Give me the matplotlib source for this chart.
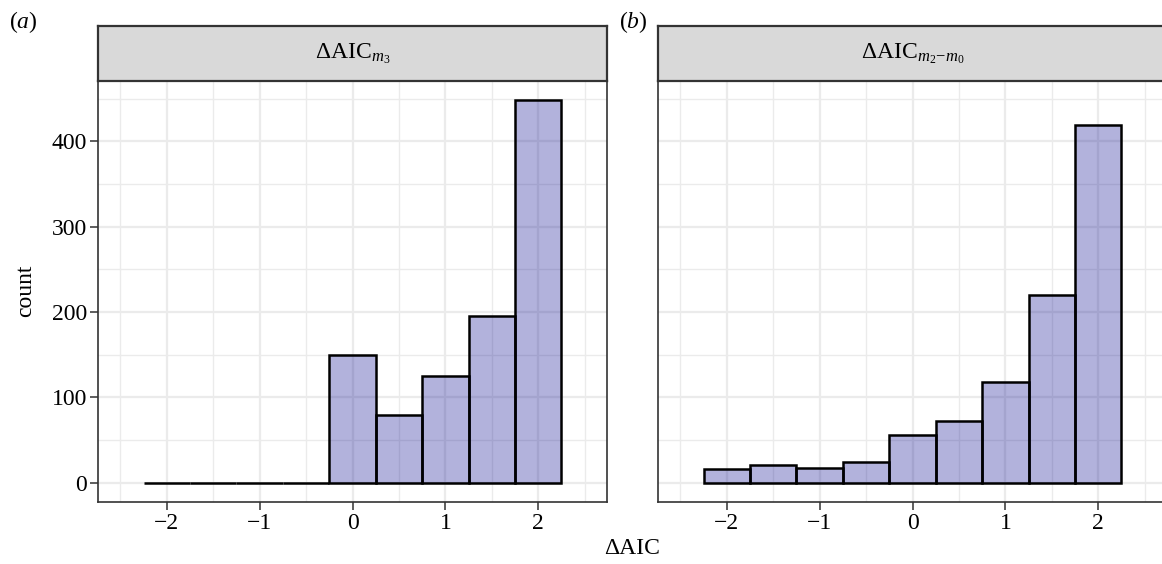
import matplotlib.pyplot as plt

plt.rcParams["font.family"] = ["Liberation Serif", "DejaVu Serif"]
plt.rcParams["mathtext.fontset"] = "custom"
plt.rcParams["mathtext.rm"] = "Liberation Serif"
plt.rcParams["mathtext.it"] = "Liberation Serif:italic"

# histogram bins (width 0.5) and counts per facet
bin_centers = [-2.0, -1.5, -1.0, -0.5, 0.0, 0.5, 1.0, 1.5, 2.0]
counts_m3 = [0, 0, 0, 0, 150, 80, 125, 196, 449]
counts_m2_m0 = [16, 21, 17, 25, 56, 73, 118, 220, 419]
panel_counts = [counts_m3, counts_m2_m0]
panel_titles = [r"$\mathrm{\Delta AIC}_{m_3}$", r"$\mathrm{\Delta AIC}_{m_2\!-\!m_0}$"]
panel_tags = [r"($a$)", r"($b$)"]
x_ticks = [-2, -1, 0, 1, 2]
x_tick_labels = ["\u22122", "\u22121", "0", "1", "2"]
x_minor = [-2.5, -1.5, -0.5, 0.5, 1.5, 2.5]
y_ticks = [0, 100, 200, 300, 400]
y_minor = [50, 150, 250, 350, 450]

W, H = 1162, 564
fig = plt.figure(figsize=(W / 100, H / 100), dpi=100)


def box(x0, y0, x1, y1):
    return [x0 / W, 1 - y1 / H, (x1 - x0) / W, (y1 - y0) / H]


dark = "#333333"
grid_col = "#EBEBEB"
fill = (0.0, 0.0, 0.545, 0.3)
lefts = [98, 658]
tag_x = [23, 633]
pw = 509
fs = 17

for i in range(2):
    x0 = lefts[i]
    ax = fig.add_axes(box(x0, 80.5, x0 + pw, 502))
    ax.bar(bin_centers, panel_counts[i], width=0.5, color=fill,
           edgecolor="black", linewidth=1.8, zorder=3)
    ax.set_xlim(-2.74, 2.74)
    ax.set_ylim(-22.45, 471.45)
    ax.set_xticks(x_ticks)
    ax.set_xticklabels(x_tick_labels)
    ax.set_xticks(x_minor, minor=True)
    ax.set_yticks(y_ticks)
    ax.set_yticks(y_minor, minor=True)
    ax.set_axisbelow(True)
    ax.grid(which="major", color=grid_col, linewidth=1.6, zorder=0)
    ax.grid(which="minor", color=grid_col, linewidth=1.0, zorder=0)
    ax.tick_params(which="minor", length=0)
    ax.tick_params(which="major", length=5.5, width=1.1, color=dark,
                   labelsize=fs, labelcolor="black", pad=2.5)
    for s in ax.spines.values():
        s.set_color(dark)
        s.set_linewidth(1.2)
    if i == 1:
        ax.tick_params(axis="y", which="both", left=False, labelleft=False)

    # facet strip
    st = fig.add_axes(box(x0, 26, x0 + pw, 80.5))
    st.set_facecolor("#D9D9D9")
    st.set_xticks([])
    st.set_yticks([])
    for s in st.spines.values():
        s.set_color(dark)
        s.set_linewidth(1.6)
    st.text(0.5, 0.5, panel_titles[i], ha="center", va="center",
            fontsize=fs, transform=st.transAxes)

    fig.text(tag_x[i] / W, 1 - 22 / H, panel_tags[i], ha="center",
             va="center", fontsize=fs)

fig.text(26 / W, 1 - 291 / H, "count", rotation=90, ha="center",
         va="center", fontsize=fs)
fig.text(632 / W, 1 - 549 / H, "\u0394AIC", ha="center", va="center", fontsize=fs)

fig.savefig("out.png", dpi=100)
